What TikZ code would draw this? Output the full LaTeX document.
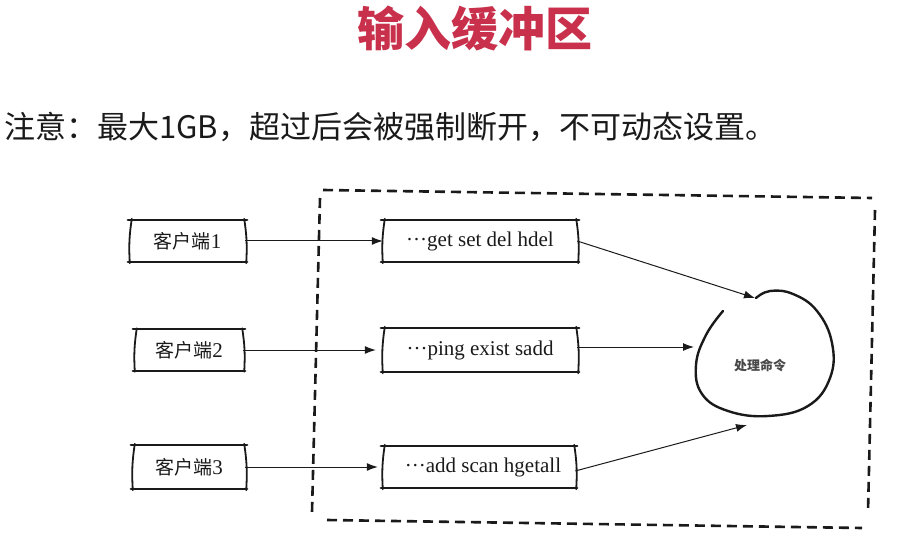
\documentclass[tikz,border=0pt]{standalone}
\usepackage{fontspec}
\setmainfont{Liberation Serif}
\newfontfamily\cjk{Noto Sans CJK SC}
\usetikzlibrary{arrows.meta,calc}
\definecolor{titlered}{HTML}{C8304B}
\definecolor{ink}{HTML}{1A1A1A}
\newcommand{\sketchbox}[1]{%
  \draw[boxline] ([xshift=-2pt]#1.north west) -- ([xshift=2pt]#1.north east);
  \draw[boxline] ([xshift=-2pt]#1.south west) -- ([xshift=2pt]#1.south east);
  \draw[sideline] ([xshift=2pt,yshift=1pt]#1.north west) to[bend right=6] ([xshift=0pt,yshift=-1pt]#1.south west);
  \draw[sideline] ([xshift=-1pt,yshift=1pt]#1.north east) to[bend left=6] ([xshift=1pt,yshift=-1pt]#1.south east);
}
\begin{document}
\begin{tikzpicture}[x=1pt,y=-1pt,
  sbox/.style={draw=none,inner sep=0pt,font=\fontsize{21}{24}\selectfont,text=ink},
  boxline/.style={draw=ink,line width=2.2pt,line cap=round},
  sideline/.style={draw=ink,line width=1.8pt,line cap=round},
  edge/.style={draw=ink,line width=1pt,-{Latex[length=11pt,width=8pt]}},
  frameline/.style={draw=ink,line width=2.6pt,dash pattern=on 10pt off 6pt},
  blobline/.style={draw=ink,line width=2.4pt,line cap=round}]

\useasboundingbox[fill=white] (0,0) rectangle (912,537);

\node[font=\cjk\bfseries\fontsize{47}{50}\selectfont,text=titlered] (title) at (475,28) {输入缓冲区};
\node[anchor=west,inner sep=0pt,font=\cjk\fontsize{31}{36}\selectfont,text=ink] (note) at (4,127) {注意：最大1GB，超过后会被强制断开，不可动态设置。};

% dashed frame
\draw[frameline] (323,190) -- (872,198);
\draw[frameline] (875,210) -- (868,512);
\draw[frameline] (327,520) -- (862,528);
\draw[frameline] (320,198) -- (312,512);

% client boxes
\node[sbox,minimum width=115pt,minimum height=42pt] (c1) at (187.5,241) {{\cjk\fontsize{19}{22}\selectfont 客户端}1};
\node[sbox,minimum width=108pt,minimum height=41pt] (c2) at (189,350) {{\cjk\fontsize{19}{22}\selectfont 客户端}2};
\node[sbox,minimum width=112pt,minimum height=44pt] (c3) at (189,467) {{\cjk\fontsize{19}{22}\selectfont 客户端}3};

% command boxes
\node[sbox,minimum width=194pt,minimum height=42pt] (m1) at (480,241) {···get set del hdel};
\node[sbox,minimum width=194pt,minimum height=44pt] (m2) at (480,350) {···ping exist sadd\hspace{14pt}};
\node[sbox,minimum width=192pt,minimum height=42pt] (m3) at (479,467) {\hspace{8pt}···add scan hgetall};

\sketchbox{c1}\sketchbox{c2}\sketchbox{c3}
\sketchbox{m1}\sketchbox{m2}\sketchbox{m3}

% processing blob
\draw[blobline] plot[smooth,tension=0.7] coordinates {(723,311) (706,335) (696,365) (702,394) (728,411) (768,416) (808,406) (830,378) (832,343) (817,311) (793,294) (770,291) (756,298)};
\node[inner sep=0pt,font=\cjk\bfseries\fontsize{13}{15}\selectfont,text=ink!80] (proc) at (760,365) {处理命令};
\coordinate (ptop) at (755,298);
\coordinate (pleft) at (694,347);
\coordinate (pbot) at (747,425);

% connectors
\draw[edge] (c1.east) -- (m1.west);
\draw[edge] (c2.east) -- ([xshift=-7pt]m2.west);
\draw[edge] (c3.east) -- ([xshift=-5pt]m3.west);
\draw[edge] (m1.east) -- (ptop);
\draw[edge] ([yshift=3pt]m2.east) -- (pleft);
\draw[edge] ([yshift=-4pt]m3.east) -- (pbot);
\end{tikzpicture}
\end{document}
